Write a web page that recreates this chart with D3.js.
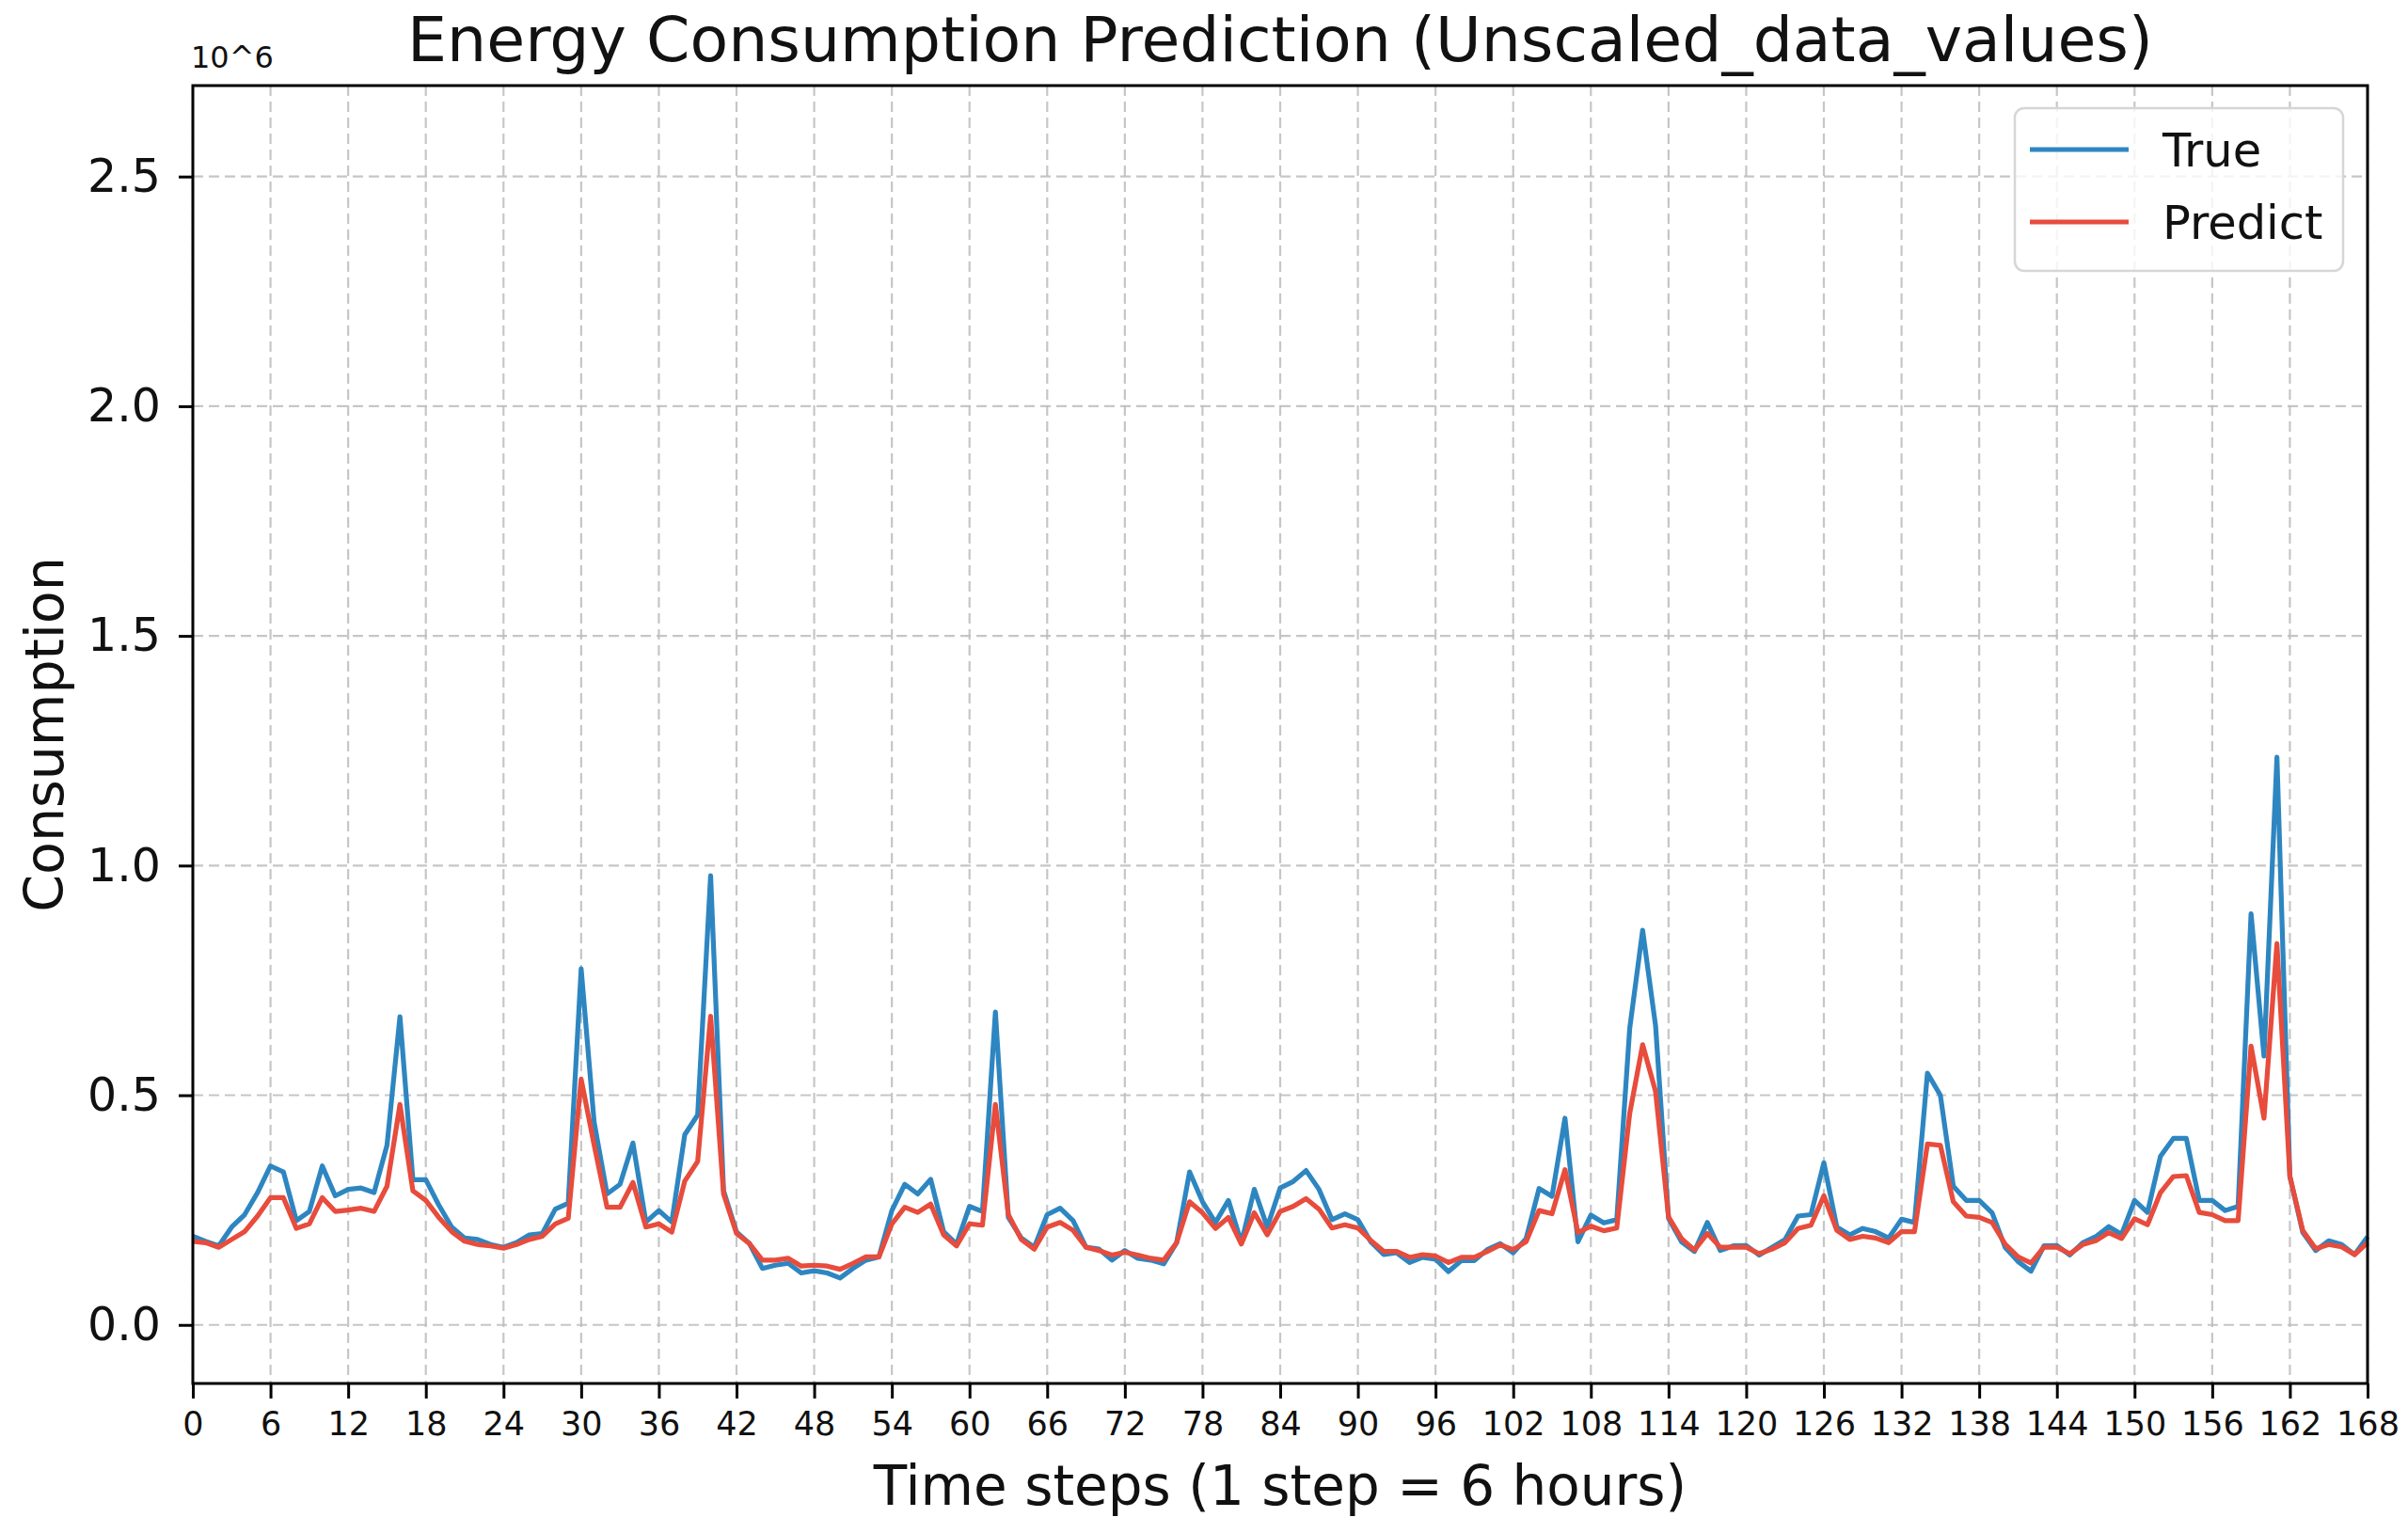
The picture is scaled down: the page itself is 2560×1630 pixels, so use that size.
<!DOCTYPE html>
<html>
<head>
<meta charset="utf-8">
<script src="https://cdn.jsdelivr.net/npm/d3@7/dist/d3.min.js"></script>
<style>
  html, body { margin: 0; padding: 0; background: #ffffff; }
  svg { display: block; font-family: "DejaVu Sans", sans-serif; }
</style>
</head>
<body>
<svg id="chart" width="2560" height="1630"></svg>
<script>
// ---- Data (values in units of 10^6) ----
const steps = d3.range(0, 169);
const trueValues = [
  0.193,0.182,0.172,0.213,0.240,0.288,0.346,0.333,0.227,0.247,
  0.346,0.281,0.295,0.298,0.288,0.391,0.671,0.316,0.316,0.261,
  0.213,0.189,0.186,0.175,0.169,0.179,0.196,0.199,0.252,0.265,
  0.775,0.442,0.285,0.306,0.396,0.224,0.249,0.224,0.414,0.457,
  0.978,0.292,0.202,0.177,0.123,0.130,0.134,0.113,0.118,0.113,
  0.102,0.123,0.141,0.148,0.249,0.306,0.285,0.317,0.203,0.176,
  0.258,0.247,0.681,0.234,0.189,0.169,0.240,0.254,0.227,0.169,
  0.165,0.141,0.162,0.145,0.141,0.133,0.179,0.333,0.268,0.223,
  0.271,0.179,0.295,0.213,0.298,0.312,0.336,0.295,0.229,0.242,
  0.229,0.181,0.153,0.157,0.136,0.147,0.143,0.116,0.140,0.140,
  0.164,0.177,0.157,0.188,0.297,0.280,0.450,0.181,0.239,0.222,
  0.229,0.645,0.859,0.651,0.232,0.181,0.160,0.223,0.162,0.172,
  0.173,0.152,0.169,0.186,0.237,0.240,0.353,0.213,0.196,0.210,
  0.203,0.189,0.230,0.223,0.548,0.500,0.302,0.271,0.271,0.244,
  0.169,0.138,0.117,0.172,0.173,0.152,0.179,0.192,0.214,0.197,
  0.271,0.245,0.367,0.406,0.406,0.271,0.271,0.249,0.258,0.895,
  0.585,1.236,0.323,0.201,0.162,0.183,0.175,0.153,0.192
];
const predictValues = [
  0.182,0.179,0.169,0.186,0.203,0.237,0.277,0.277,0.210,0.220,
  0.277,0.247,0.250,0.254,0.247,0.302,0.480,0.292,0.271,0.234,
  0.203,0.182,0.175,0.172,0.167,0.175,0.186,0.193,0.220,0.232,
  0.535,0.392,0.256,0.256,0.310,0.213,0.220,0.202,0.313,0.356,
  0.672,0.285,0.199,0.177,0.141,0.141,0.145,0.128,0.130,0.128,
  0.121,0.134,0.148,0.148,0.220,0.256,0.245,0.263,0.196,0.172,
  0.220,0.217,0.480,0.240,0.186,0.165,0.213,0.223,0.206,0.169,
  0.162,0.152,0.158,0.152,0.145,0.141,0.179,0.268,0.244,0.210,
  0.234,0.176,0.244,0.196,0.247,0.258,0.275,0.252,0.211,0.218,
  0.211,0.184,0.160,0.160,0.147,0.153,0.150,0.136,0.147,0.147,
  0.160,0.174,0.164,0.181,0.249,0.242,0.338,0.201,0.215,0.205,
  0.211,0.460,0.610,0.508,0.235,0.188,0.163,0.199,0.169,0.169,
  0.169,0.155,0.165,0.179,0.210,0.217,0.281,0.206,0.186,0.193,
  0.189,0.179,0.203,0.203,0.394,0.391,0.268,0.237,0.234,0.223,
  0.176,0.148,0.135,0.169,0.169,0.155,0.175,0.183,0.201,0.188,
  0.231,0.218,0.288,0.323,0.325,0.245,0.240,0.227,0.227,0.607,
  0.450,0.830,0.323,0.205,0.166,0.175,0.170,0.153,0.179
];
const xTicks = d3.range(0, 169, 6);
const yTicks = [0, 0.5, 1.0, 1.5, 2.0, 2.5];
const seriesNames = ["True", "Predict"];
const seriesColors = ["#2e86c1", "#e74c3c"];
const titleText = "Energy Consumption Prediction (Unscaled_data_values)";
const xLabelText = "Time steps (1 step = 6 hours)";
const yLabelText = "Consumption";
const scaleText = "10^6";

// ---- Layout ----
const plot = { left: 205, right: 2517, top: 91, bottom: 1471 };
const svg = d3.select("#chart");

const x = d3.scaleLinear().domain([0, 168]).range([plot.left, plot.right]);
const y = d3.scaleLinear().domain([-0.1275, 2.698]).range([plot.bottom, plot.top]);

// Grid
const grid = svg.append("g");
grid.selectAll("line.vx").data(xTicks).enter().append("line")
  .attr("x1", d => x(d)).attr("x2", d => x(d))
  .attr("y1", plot.top).attr("y2", plot.bottom)
  .attr("stroke", "#bdbdbd").attr("stroke-width", 2.2)
  .attr("stroke-dasharray", "11,6").attr("opacity", 0.85);
grid.selectAll("line.hy").data(yTicks).enter().append("line")
  .attr("x1", plot.left).attr("x2", plot.right)
  .attr("y1", d => y(d)).attr("y2", d => y(d))
  .attr("stroke", "#bdbdbd").attr("stroke-width", 2.2)
  .attr("stroke-dasharray", "11,6").attr("opacity", 0.85);

// Lines
const line = d3.line().x((d, i) => x(steps[i])).y(d => y(d));
[trueValues, predictValues].forEach((vals, k) => {
  svg.append("path").datum(vals)
    .attr("d", line)
    .attr("fill", "none")
    .attr("stroke", seriesColors[k])
    .attr("stroke-width", 5.2)
    .attr("stroke-linejoin", "round")
    .attr("stroke-linecap", "butt");
});

// Axes
const xAxis = svg.append("g")
  .attr("transform", `translate(0,${plot.bottom})`)
  .call(d3.axisBottom(x).tickValues(xTicks).tickFormat(d3.format("d")).tickSize(16).tickPadding(14));
xAxis.select(".domain").remove();
xAxis.selectAll(".tick line").attr("stroke", "#000").attr("stroke-width", 3);
xAxis.selectAll(".tick text").attr("font-size", 35).attr("fill", "#111")
  .attr("font-family", "DejaVu Sans, sans-serif");

const yAxis = svg.append("g")
  .attr("transform", `translate(${plot.left},0)`)
  .call(d3.axisLeft(y).tickValues(yTicks).tickFormat(d3.format(".1f")).tickSize(15).tickPadding(19));
yAxis.select(".domain").remove();
yAxis.selectAll(".tick line").attr("stroke", "#000").attr("stroke-width", 3);
yAxis.selectAll(".tick text").attr("font-size", 49).attr("fill", "#111")
  .attr("font-family", "DejaVu Sans, sans-serif");

// Spines
svg.append("rect")
  .attr("x", plot.left).attr("y", plot.top)
  .attr("width", plot.right - plot.left).attr("height", plot.bottom - plot.top)
  .attr("fill", "none").attr("stroke", "#000").attr("stroke-width", 3);

// Title and labels
svg.append("text").attr("x", (plot.left + plot.right) / 2).attr("y", 65)
  .attr("text-anchor", "middle").attr("font-size", 66.5).attr("fill", "#111")
  .text(titleText);
svg.append("text").attr("x", (plot.left + plot.right) / 2).attr("y", 1600)
  .attr("text-anchor", "middle").attr("font-size", 58).attr("fill", "#111")
  .text(xLabelText);
svg.append("text")
  .attr("transform", `translate(67,${(plot.top + plot.bottom) / 2}) rotate(-90)`)
  .attr("text-anchor", "middle").attr("font-size", 57).attr("fill", "#111")
  .text(yLabelText);
svg.append("text").attr("x", 203).attr("y", 72)
  .attr("font-size", 32).attr("fill", "#111")
  .text(scaleText);

// Legend
const lg = svg.append("g");
lg.append("rect").attr("x", 2142).attr("y", 115).attr("width", 349).attr("height", 173)
  .attr("rx", 10).attr("ry", 10)
  .attr("fill", "#ffffff").attr("fill-opacity", 0.8)
  .attr("stroke", "#d6d6d6").attr("stroke-width", 2.5);
seriesNames.forEach((name, k) => {
  const cy = k === 0 ? 159 : 236;
  lg.append("line").attr("x1", 2158).attr("x2", 2263).attr("y1", cy).attr("y2", cy)
    .attr("stroke", seriesColors[k]).attr("stroke-width", 5.2);
  lg.append("text").attr("x", 2299).attr("y", cy + 18)
    .attr("font-size", 49.5).attr("fill", "#111").text(name);
});
</script>
</body>
</html>
